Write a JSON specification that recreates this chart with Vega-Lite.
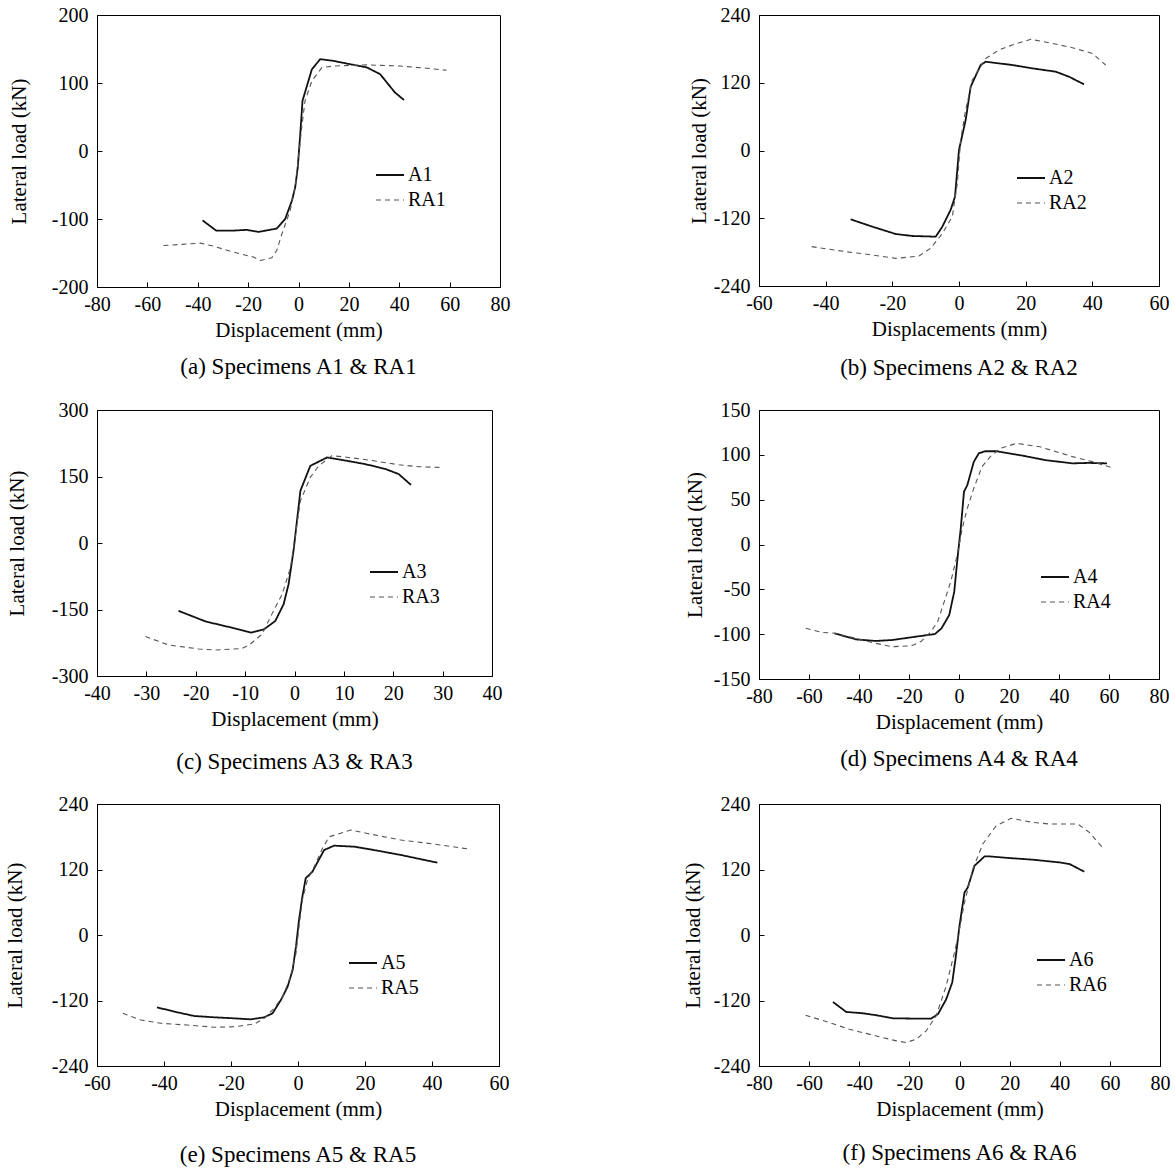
{
  "$schema": "https://vega.github.io/schema/vega-lite/v6.json",
  "padding": {"left": 3, "top": 4, "right": 0, "bottom": 0},
  "background": "white",
  "columns": 2,
  "spacing": {"column": 170, "row": 18},
  "datasets": {
    "a": [
      {"x":-38.1,"y":-102,"s":"A1"},{"x":-32.7,"y":-117,"s":"A1"},{"x":-25.8,"y":-117,"s":"A1"},{"x":-20.5,"y":-116,"s":"A1"},{"x":-15.9,"y":-119,"s":"A1"},{"x":-8.6,"y":-114,"s":"A1"},{"x":-5.3,"y":-100,"s":"A1"},{"x":-2.6,"y":-73,"s":"A1"},{"x":-1.3,"y":-53,"s":"A1"},{"x":-0.3,"y":-24,"s":"A1"},{"x":0.7,"y":25,"s":"A1"},{"x":1.6,"y":74,"s":"A1"},{"x":5.3,"y":120,"s":"A1"},{"x":8.6,"y":135,"s":"A1"},{"x":13.9,"y":132.5,"s":"A1"},{"x":20.5,"y":127.6,"s":"A1"},{"x":27.1,"y":123,"s":"A1"},{"x":32.4,"y":113,"s":"A1"},{"x":38.3,"y":86,"s":"A1"},{"x":41.9,"y":75,"s":"A1"},
      {"x":-53.6,"y":-139,"s":"RA1"},{"x":-39,"y":-135.5,"s":"RA1"},{"x":-33.7,"y":-140,"s":"RA1"},{"x":-25.8,"y":-148.7,"s":"RA1"},{"x":-17.9,"y":-156,"s":"RA1"},{"x":-15.2,"y":-161,"s":"RA1"},{"x":-10.6,"y":-157,"s":"RA1"},{"x":-8.6,"y":-146,"s":"RA1"},{"x":-6.6,"y":-122,"s":"RA1"},{"x":-3.3,"y":-87.5,"s":"RA1"},{"x":-1.3,"y":-53,"s":"RA1"},{"x":0,"y":-9,"s":"RA1"},{"x":1.3,"y":35,"s":"RA1"},{"x":2.6,"y":74,"s":"RA1"},{"x":5.3,"y":103,"s":"RA1"},{"x":9.3,"y":122.7,"s":"RA1"},{"x":13.9,"y":125,"s":"RA1"},{"x":27.1,"y":126.6,"s":"RA1"},{"x":40.3,"y":125,"s":"RA1"},{"x":50.9,"y":121.7,"s":"RA1"},{"x":58.8,"y":118.8,"s":"RA1"}
    ],
    "b": [
      {"x":-32.5,"y":-121.9,"s":"A2"},{"x":-26,"y":-134.9,"s":"A2"},{"x":-19,"y":-147.9,"s":"A2"},{"x":-14,"y":-151.4,"s":"A2"},{"x":-7,"y":-152.6,"s":"A2"},{"x":-5,"y":-134.9,"s":"A2"},{"x":-2.5,"y":-105,"s":"A2"},{"x":-1.2,"y":-81.8,"s":"A2"},{"x":0,"y":1,"s":"A2"},{"x":2,"y":54,"s":"A2"},{"x":3.5,"y":113,"s":"A2"},{"x":6.5,"y":151.4,"s":"A2"},{"x":8,"y":157.3,"s":"A2"},{"x":16,"y":151.4,"s":"A2"},{"x":22,"y":145.5,"s":"A2"},{"x":29,"y":139.6,"s":"A2"},{"x":33,"y":130.7,"s":"A2"},{"x":37.5,"y":117.2,"s":"A2"},
      {"x":-44.2,"y":-170.3,"s":"RA2"},{"x":-34,"y":-179.2,"s":"RA2"},{"x":-26,"y":-185,"s":"RA2"},{"x":-19,"y":-191,"s":"RA2"},{"x":-12,"y":-187,"s":"RA2"},{"x":-8.5,"y":-173,"s":"RA2"},{"x":-5,"y":-147,"s":"RA2"},{"x":-2,"y":-117,"s":"RA2"},{"x":-0.5,"y":-58,"s":"RA2"},{"x":0.5,"y":18.6,"s":"RA2"},{"x":2,"y":71.7,"s":"RA2"},{"x":4,"y":124.8,"s":"RA2"},{"x":8,"y":163,"s":"RA2"},{"x":12,"y":178,"s":"RA2"},{"x":16,"y":187,"s":"RA2"},{"x":21.5,"y":196.9,"s":"RA2"},{"x":28,"y":189.8,"s":"RA2"},{"x":34,"y":182,"s":"RA2"},{"x":40,"y":172,"s":"RA2"},{"x":44,"y":151.4,"s":"RA2"}
    ],
    "c": [
      {"x":-23.5,"y":-153,"s":"A3"},{"x":-18,"y":-177,"s":"A3"},{"x":-12.7,"y":-191,"s":"A3"},{"x":-8.8,"y":-202,"s":"A3"},{"x":-6.2,"y":-195,"s":"A3"},{"x":-3.9,"y":-176,"s":"A3"},{"x":-2.2,"y":-138,"s":"A3"},{"x":-1.2,"y":-93,"s":"A3"},{"x":-0.2,"y":-18,"s":"A3"},{"x":0.5,"y":50,"s":"A3"},{"x":1.2,"y":118,"s":"A3"},{"x":3.2,"y":174,"s":"A3"},{"x":6.6,"y":193,"s":"A3"},{"x":10.3,"y":186,"s":"A3"},{"x":14.3,"y":178,"s":"A3"},{"x":18.4,"y":167,"s":"A3"},{"x":21.1,"y":155.5,"s":"A3"},{"x":23.6,"y":131,"s":"A3"},
      {"x":-30.2,"y":-211,"s":"RA3"},{"x":-25.5,"y":-230,"s":"RA3"},{"x":-19.4,"y":-239,"s":"RA3"},{"x":-16,"y":-241.5,"s":"RA3"},{"x":-10.6,"y":-238,"s":"RA3"},{"x":-9,"y":-228.5,"s":"RA3"},{"x":-6.6,"y":-206,"s":"RA3"},{"x":-4.6,"y":-161,"s":"RA3"},{"x":-2.5,"y":-115.5,"s":"RA3"},{"x":-0.8,"y":-55,"s":"RA3"},{"x":0.2,"y":20,"s":"RA3"},{"x":1.2,"y":95,"s":"RA3"},{"x":3.2,"y":148,"s":"RA3"},{"x":4.9,"y":174,"s":"RA3"},{"x":7.6,"y":197,"s":"RA3"},{"x":11,"y":193,"s":"RA3"},{"x":15.7,"y":186,"s":"RA3"},{"x":21.1,"y":176.5,"s":"RA3"},{"x":25.2,"y":172,"s":"RA3"},{"x":29.6,"y":170.5,"s":"RA3"}
    ],
    "d": [
      {"x":-49.8,"y":-99,"s":"A4"},{"x":-46.5,"y":-101.7,"s":"A4"},{"x":-41.2,"y":-105.8,"s":"A4"},{"x":-33.3,"y":-107.6,"s":"A4"},{"x":-26.7,"y":-106.5,"s":"A4"},{"x":-20.1,"y":-103.9,"s":"A4"},{"x":-9.6,"y":-99.8,"s":"A4"},{"x":-7,"y":-93.5,"s":"A4"},{"x":-3.9,"y":-78.6,"s":"A4"},{"x":-1.9,"y":-52.6,"s":"A4"},{"x":-0.6,"y":-15.4,"s":"A4"},{"x":0.7,"y":18,"s":"A4"},{"x":2,"y":59,"s":"A4"},{"x":3.3,"y":66,"s":"A4"},{"x":5.9,"y":92,"s":"A4"},{"x":7.9,"y":101.7,"s":"A4"},{"x":10.5,"y":104,"s":"A4"},{"x":15.1,"y":104,"s":"A4"},{"x":25.6,"y":99,"s":"A4"},{"x":34.8,"y":94,"s":"A4"},{"x":45.4,"y":90.5,"s":"A4"},{"x":51.9,"y":91,"s":"A4"},{"x":59.2,"y":90.5,"s":"A4"},
      {"x":-61.3,"y":-93.5,"s":"RA4"},{"x":-54.7,"y":-98,"s":"RA4"},{"x":-49.4,"y":-99,"s":"RA4"},{"x":-41.5,"y":-104.6,"s":"RA4"},{"x":-33.6,"y":-110,"s":"RA4"},{"x":-27,"y":-114,"s":"RA4"},{"x":-19.1,"y":-113,"s":"RA4"},{"x":-15.1,"y":-108,"s":"RA4"},{"x":-11.2,"y":-97,"s":"RA4"},{"x":-8.5,"y":-86,"s":"RA4"},{"x":-5.9,"y":-63.7,"s":"RA4"},{"x":-3.3,"y":-41.4,"s":"RA4"},{"x":-0.7,"y":-11.7,"s":"RA4"},{"x":1.3,"y":18,"s":"RA4"},{"x":3.3,"y":40,"s":"RA4"},{"x":5.9,"y":62.6,"s":"RA4"},{"x":9.2,"y":86.8,"s":"RA4"},{"x":12.5,"y":98,"s":"RA4"},{"x":16.4,"y":107,"s":"RA4"},{"x":23,"y":112.8,"s":"RA4"},{"x":32.3,"y":109,"s":"RA4"},{"x":45.4,"y":98,"s":"RA4"},{"x":53.3,"y":92.4,"s":"RA4"},{"x":61.2,"y":85.7,"s":"RA4"}
    ],
    "e": [
      {"x":-42.1,"y":-132.5,"s":"A5"},{"x":-36.9,"y":-140.4,"s":"A5"},{"x":-31,"y":-148.4,"s":"A5"},{"x":-25,"y":-150.8,"s":"A5"},{"x":-19,"y":-152.7,"s":"A5"},{"x":-14.1,"y":-154.5,"s":"A5"},{"x":-10.1,"y":-150.8,"s":"A5"},{"x":-7.6,"y":-143.5,"s":"A5"},{"x":-5.1,"y":-119,"s":"A5"},{"x":-3.1,"y":-94.7,"s":"A5"},{"x":-1.6,"y":-64,"s":"A5"},{"x":-0.6,"y":-21,"s":"A5"},{"x":0.3,"y":27.5,"s":"A5"},{"x":1.3,"y":70,"s":"A5"},{"x":2.3,"y":104,"s":"A5"},{"x":4.3,"y":116,"s":"A5"},{"x":7.8,"y":155.7,"s":"A5"},{"x":10.8,"y":163.7,"s":"A5"},{"x":16.8,"y":161.8,"s":"A5"},{"x":22.7,"y":155.7,"s":"A5"},{"x":30.7,"y":146.6,"s":"A5"},{"x":41.6,"y":132.5,"s":"A5"},
      {"x":-52.3,"y":-143.5,"s":"RA5"},{"x":-46.9,"y":-155.7,"s":"RA5"},{"x":-40.9,"y":-161.8,"s":"RA5"},{"x":-33,"y":-165,"s":"RA5"},{"x":-25,"y":-169,"s":"RA5"},{"x":-19,"y":-168,"s":"RA5"},{"x":-13,"y":-163,"s":"RA5"},{"x":-10.1,"y":-152.7,"s":"RA5"},{"x":-7.1,"y":-134,"s":"RA5"},{"x":-4.6,"y":-113,"s":"RA5"},{"x":-2.2,"y":-76,"s":"RA5"},{"x":-0.6,"y":-33.6,"s":"RA5"},{"x":0.3,"y":15,"s":"RA5"},{"x":1.3,"y":64,"s":"RA5"},{"x":2.8,"y":100.8,"s":"RA5"},{"x":5.3,"y":131,"s":"RA5"},{"x":7.3,"y":158.8,"s":"RA5"},{"x":9.3,"y":180,"s":"RA5"},{"x":15.8,"y":192.4,"s":"RA5"},{"x":20.7,"y":186,"s":"RA5"},{"x":30.7,"y":174,"s":"RA5"},{"x":40.6,"y":166.7,"s":"RA5"},{"x":51.5,"y":157,"s":"RA5"}
    ],
    "f": [
      {"x":-50.5,"y":-122.6,"s":"A6"},{"x":-45.2,"y":-141,"s":"A6"},{"x":-38.5,"y":-143.4,"s":"A6"},{"x":-33.2,"y":-147,"s":"A6"},{"x":-26.6,"y":-152.6,"s":"A6"},{"x":-17.3,"y":-153.2,"s":"A6"},{"x":-11.3,"y":-153.2,"s":"A6"},{"x":-8.6,"y":-145,"s":"A6"},{"x":-5.3,"y":-117.7,"s":"A6"},{"x":-2.9,"y":-87,"s":"A6"},{"x":-1.6,"y":-44.3,"s":"A6"},{"x":0,"y":17,"s":"A6"},{"x":2,"y":78,"s":"A6"},{"x":3.3,"y":87,"s":"A6"},{"x":6,"y":127,"s":"A6"},{"x":10,"y":144,"s":"A6"},{"x":11.9,"y":144,"s":"A6"},{"x":19.9,"y":141,"s":"A6"},{"x":29.2,"y":138,"s":"A6"},{"x":39.9,"y":133,"s":"A6"},{"x":43.9,"y":130,"s":"A6"},{"x":49.8,"y":116,"s":"A6"},
      {"x":-61.4,"y":-147,"s":"RA6"},{"x":-51.8,"y":-160.6,"s":"RA6"},{"x":-43.9,"y":-172.8,"s":"RA6"},{"x":-33.2,"y":-185,"s":"RA6"},{"x":-25.2,"y":-194,"s":"RA6"},{"x":-21.3,"y":-197,"s":"RA6"},{"x":-17.3,"y":-191,"s":"RA6"},{"x":-13.3,"y":-175.8,"s":"RA6"},{"x":-9.3,"y":-148,"s":"RA6"},{"x":-5.3,"y":-93,"s":"RA6"},{"x":-2,"y":-32,"s":"RA6"},{"x":0,"y":10.7,"s":"RA6"},{"x":2,"y":59.6,"s":"RA6"},{"x":5.3,"y":120.8,"s":"RA6"},{"x":9.3,"y":166.7,"s":"RA6"},{"x":14.6,"y":200,"s":"RA6"},{"x":20.6,"y":213.8,"s":"RA6"},{"x":29.2,"y":206.4,"s":"RA6"},{"x":35.9,"y":203.4,"s":"RA6"},{"x":47.2,"y":203.4,"s":"RA6"},{"x":51.8,"y":188,"s":"RA6"},{"x":57.1,"y":160,"s":"RA6"}
    ]
  },
  "concat": [
    {
      "width": 403, "height": 272,
      "data": {"name": "a"},
      "title": {"text": "(a) Specimens A1 & RA1", "orient": "bottom", "offset": 16},
      "mark": {"type": "line"},
      "encoding": {
        "x": {"field": "x", "type": "quantitative", "scale": {"domain": [-80, 80], "nice": false, "zero": false}, "axis": {"values": [-80,-60,-40,-20,0,20,40,60,80], "title": "Displacement (mm)"}},
        "y": {"field": "y", "type": "quantitative", "scale": {"domain": [-200, 200], "nice": false, "zero": false}, "axis": {"values": [-200,-100,0,100,200], "title": "Lateral load (kN)", "titlePadding": 22}},
        "strokeDash": {"field": "s", "type": "nominal", "scale": {"domain": ["A1","RA1"], "range": [[1,0],[5,4]]}, "legend": {"orient": "none", "legendX": 278, "legendY": 145}},
        "color": {"field": "s", "type": "nominal", "scale": {"domain": ["A1","RA1"], "range": ["#111111","#555555"]}, "legend": {"orient": "none", "legendX": 278, "legendY": 145}},
        "strokeWidth": {"field": "s", "type": "nominal", "scale": {"domain": ["A1","RA1"], "range": [1.8, 1.1]}, "legend": {"orient": "none", "legendX": 278, "legendY": 145}}
      }
    },
    {
      "width": 400, "height": 271,
      "data": {"name": "b"},
      "title": {"text": "(b) Specimens A2 & RA2", "orient": "bottom", "offset": 18},
      "mark": {"type": "line"},
      "encoding": {
        "x": {"field": "x", "type": "quantitative", "scale": {"domain": [-60, 60], "nice": false, "zero": false}, "axis": {"values": [-60,-40,-20,0,20,40,60], "title": "Displacements (mm)"}},
        "y": {"field": "y", "type": "quantitative", "scale": {"domain": [-240, 240], "nice": false, "zero": false}, "axis": {"values": [-240,-120,0,120,240], "title": "Lateral load (kN)", "titlePadding": 4}},
        "strokeDash": {"field": "s", "type": "nominal", "scale": {"domain": ["A2","RA2"], "range": [[1,0],[5,4]]}, "legend": {"orient": "none", "legendX": 257, "legendY": 148}},
        "color": {"field": "s", "type": "nominal", "scale": {"domain": ["A2","RA2"], "range": ["#111111","#555555"]}, "legend": {"orient": "none", "legendX": 257, "legendY": 148}},
        "strokeWidth": {"field": "s", "type": "nominal", "scale": {"domain": ["A2","RA2"], "range": [1.8, 1.1]}, "legend": {"orient": "none", "legendX": 257, "legendY": 148}}
      }
    },
    {
      "width": 395, "height": 266,
      "data": {"name": "c"},
      "title": {"text": "(c) Specimens A3 & RA3", "orient": "bottom", "offset": 22},
      "mark": {"type": "line"},
      "encoding": {
        "x": {"field": "x", "type": "quantitative", "scale": {"domain": [-40, 40], "nice": false, "zero": false}, "axis": {"values": [-40,-30,-20,-10,0,10,20,30,40], "title": "Displacement (mm)"}},
        "y": {"field": "y", "type": "quantitative", "scale": {"domain": [-300, 300], "nice": false, "zero": false}, "axis": {"values": [-300,-150,0,150,300], "title": "Lateral load (kN)", "titlePadding": 24}},
        "strokeDash": {"field": "s", "type": "nominal", "scale": {"domain": ["A3","RA3"], "range": [[1,0],[5,4]]}, "legend": {"orient": "none", "legendX": 272, "legendY": 147}},
        "color": {"field": "s", "type": "nominal", "scale": {"domain": ["A3","RA3"], "range": ["#111111","#555555"]}, "legend": {"orient": "none", "legendX": 272, "legendY": 147}},
        "strokeWidth": {"field": "s", "type": "nominal", "scale": {"domain": ["A3","RA3"], "range": [1.8, 1.1]}, "legend": {"orient": "none", "legendX": 272, "legendY": 147}}
      }
    },
    {
      "width": 400, "height": 269,
      "data": {"name": "d"},
      "title": {"text": "(d) Specimens A4 & RA4", "orient": "bottom", "offset": 16},
      "mark": {"type": "line"},
      "encoding": {
        "x": {"field": "x", "type": "quantitative", "scale": {"domain": [-80, 80], "nice": false, "zero": false}, "axis": {"values": [-80,-60,-40,-20,0,20,40,60,80], "title": "Displacement (mm)"}},
        "y": {"field": "y", "type": "quantitative", "scale": {"domain": [-150, 150], "nice": false, "zero": false}, "axis": {"values": [-150,-100,-50,0,50,100,150], "title": "Lateral load (kN)", "titlePadding": 8}},
        "strokeDash": {"field": "s", "type": "nominal", "scale": {"domain": ["A4","RA4"], "range": [[1,0],[5,4]]}, "legend": {"orient": "none", "legendX": 281, "legendY": 152}},
        "color": {"field": "s", "type": "nominal", "scale": {"domain": ["A4","RA4"], "range": ["#111111","#555555"]}, "legend": {"orient": "none", "legendX": 281, "legendY": 152}},
        "strokeWidth": {"field": "s", "type": "nominal", "scale": {"domain": ["A4","RA4"], "range": [1.8, 1.1]}, "legend": {"orient": "none", "legendX": 281, "legendY": 152}}
      }
    },
    {
      "width": 402, "height": 262,
      "data": {"name": "e"},
      "title": {"text": "(e) Specimens A5 & RA5", "orient": "bottom", "offset": 25},
      "mark": {"type": "line"},
      "encoding": {
        "x": {"field": "x", "type": "quantitative", "scale": {"domain": [-60, 60], "nice": false, "zero": false}, "axis": {"values": [-60,-40,-20,0,20,40,60], "title": "Displacement (mm)"}},
        "y": {"field": "y", "type": "quantitative", "scale": {"domain": [-240, 240], "nice": false, "zero": false}, "axis": {"values": [-240,-120,0,120,240], "title": "Lateral load (kN)", "titlePadding": 26}},
        "strokeDash": {"field": "s", "type": "nominal", "scale": {"domain": ["A5","RA5"], "range": [[1,0],[5,4]]}, "legend": {"orient": "none", "legendX": 251, "legendY": 144}},
        "color": {"field": "s", "type": "nominal", "scale": {"domain": ["A5","RA5"], "range": ["#111111","#555555"]}, "legend": {"orient": "none", "legendX": 251, "legendY": 144}},
        "strokeWidth": {"field": "s", "type": "nominal", "scale": {"domain": ["A5","RA5"], "range": [1.8, 1.1]}, "legend": {"orient": "none", "legendX": 251, "legendY": 144}}
      }
    },
    {
      "width": 401, "height": 262,
      "data": {"name": "f"},
      "title": {"text": "(f) Specimens A6 & RA6", "orient": "bottom", "offset": 23},
      "mark": {"type": "line"},
      "encoding": {
        "x": {"field": "x", "type": "quantitative", "scale": {"domain": [-80, 80], "nice": false, "zero": false}, "axis": {"values": [-80,-60,-40,-20,0,20,40,60,80], "title": "Displacement (mm)"}},
        "y": {"field": "y", "type": "quantitative", "scale": {"domain": [-240, 240], "nice": false, "zero": false}, "axis": {"values": [-240,-120,0,120,240], "title": "Lateral load (kN)", "titlePadding": 10}},
        "strokeDash": {"field": "s", "type": "nominal", "scale": {"domain": ["A6","RA6"], "range": [[1,0],[5,4]]}, "legend": {"orient": "none", "legendX": 277, "legendY": 141}},
        "color": {"field": "s", "type": "nominal", "scale": {"domain": ["A6","RA6"], "range": ["#111111","#555555"]}, "legend": {"orient": "none", "legendX": 277, "legendY": 141}},
        "strokeWidth": {"field": "s", "type": "nominal", "scale": {"domain": ["A6","RA6"], "range": [1.8, 1.1]}, "legend": {"orient": "none", "legendX": 277, "legendY": 141}}
      }
    }
  ],
  "resolve": {
    "scale": {"x": "independent", "y": "independent", "color": "independent", "strokeDash": "independent", "strokeWidth": "independent"},
    "legend": {"color": "independent", "strokeDash": "independent", "strokeWidth": "independent"},
    "axis": {"x": "independent", "y": "independent"}
  },
  "config": {
    "font": "Liberation Serif",
    "view": {"stroke": "black", "strokeWidth": 1},
    "axis": {
      "labelFont": "Liberation Serif", "labelFontSize": 20, "labelColor": "black",
      "titleFont": "Liberation Serif", "titleFontSize": 21, "titleFontWeight": "normal", "titleColor": "black",
      "tickColor": "black", "tickSize": -5, "domainColor": "black", "grid": false,
      "labelFlush": false, "labelOverlap": false, "titlePadding": 5,
      "labelExpr": "replace(datum.label, '\u2212', '-')"
    },
    "axisX": {"labelPadding": 12},
    "axisY": {"labelPadding": 14},
    "title": {"font": "Liberation Serif", "fontSize": 23, "fontWeight": "normal", "color": "black"},
    "legend": {
      "title": null, "symbolType": "stroke", "symbolSize": 784, "labelFont": "Liberation Serif",
      "labelFontSize": 20, "labelColor": "black", "rowPadding": 0, "padding": 0, "labelOffset": 3,
      "symbolStrokeColor": "black"
    }
  }
}
